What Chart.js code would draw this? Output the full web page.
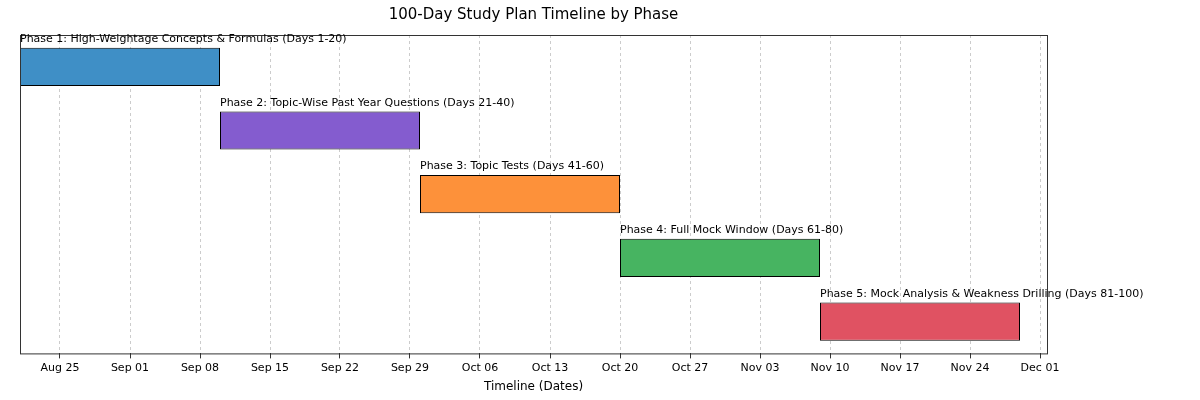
<!DOCTYPE html>
<html><head><meta charset="utf-8">
<script src="https://cdn.jsdelivr.net/npm/chart.js@4"></script>
<style>body{margin:0;background:#fff}</style>
</head><body><canvas id="c" width="1200" height="400"></canvas>
<script>
const phases=["Phase 1: High-Weightage Concepts & Formulas (Days 1-20)","Phase 2: Topic-Wise Past Year Questions (Days 21-40)","Phase 3: Topic Tests (Days 41-60)","Phase 4: Full Mock Window (Days 61-80)","Phase 5: Mock Analysis & Weakness Drilling (Days 81-100)"];
const startDates=["2024-08-21","2024-09-10","2024-09-30","2024-10-20","2024-11-09"];
const endDates=["2024-09-10","2024-09-30","2024-10-20","2024-11-09","2024-11-29"];
const colors=["#3f8fc6","#845ccf","#fd913a","#47b461","#e05262"];
const tickDates=["2024-08-25","2024-09-01","2024-09-08","2024-09-15","2024-09-22","2024-09-29","2024-10-06","2024-10-13","2024-10-20","2024-10-27","2024-11-03","2024-11-10","2024-11-17","2024-11-24","2024-12-01"];
const axisMin="2024-08-21", axisMaxDays=102.7;
const D=s=>Date.UTC(+s.slice(0,4),+s.slice(5,7)-1,+s.slice(8,10))/864e5;
const base=D(axisMin);
const mon=["Jan","Feb","Mar","Apr","May","Jun","Jul","Aug","Sep","Oct","Nov","Dec"];
const fmt=v=>{const d=new Date((v+base)*864e5);return mon[d.getUTCMonth()]+" "+String(d.getUTCDate()).padStart(2,"0");};
const font="'DejaVu Sans', sans-serif";
const deco={id:"deco",afterDatasetsDraw(ch){const c=ch.ctx,a=ch.chartArea,m=ch.getDatasetMeta(0);
 c.save();c.strokeStyle="#333";c.lineWidth=1;c.strokeRect(a.left+.5,a.top+.5,a.width,a.height);
 c.fillStyle="#000";c.font="11px "+font;c.textBaseline="bottom";c.textAlign="left";
 m.data.forEach((b,i)=>{const p=b.getProps(["x","y","base","height"],true);c.fillText(phases[i],Math.min(p.x,p.base),p.y-p.height/2-3);});
 c.restore();}};
new Chart(document.getElementById("c"),{type:"bar",
 data:{labels:phases,datasets:[{data:startDates.map((s,i)=>[D(s)-base,D(endDates[i])-base]),backgroundColor:colors,borderColor:"#000",borderWidth:1,borderSkipped:false,barPercentage:0.6,categoryPercentage:1}]},
 options:{indexAxis:"y",responsive:false,animation:false,devicePixelRatio:1,
  layout:{padding:{left:20,right:153,top:0,bottom:2}},
  plugins:{legend:{display:false},tooltip:{enabled:false},
   title:{display:true,text:"100-Day Study Plan Timeline by Phase",font:{family:font,size:15,weight:"normal"},color:"#000",padding:{top:6,bottom:11}}},
  scales:{y:{display:false},
   x:{type:"linear",min:0,max:axisMaxDays,
    afterBuildTicks(ax){ax.ticks=tickDates.map(t=>({value:D(t)-base}));},
    ticks:{callback:v=>fmt(v),color:"#000",font:{family:font,size:11},maxRotation:0,autoSkip:false},
    grid:{color:"#ccc",tickLength:5,tickColor:"#333"},
    border:{display:false,dash:[3,3]},
    title:{display:true,text:"Timeline (Dates)",color:"#000",font:{family:font,size:12},padding:{top:2}}}}},
 plugins:[deco]});
</script></body></html>
